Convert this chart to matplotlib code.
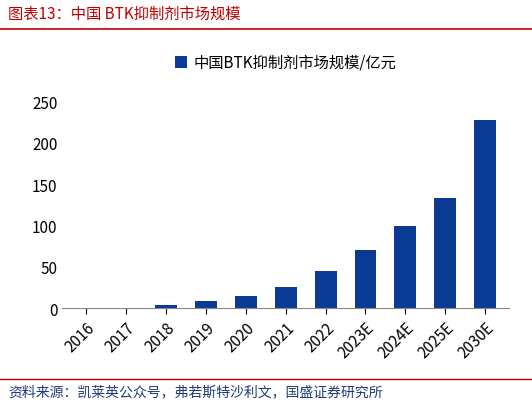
import matplotlib
matplotlib.use("Agg")
import matplotlib.pyplot as plt
from matplotlib.lines import Line2D

plt.rcParams['font.family'] = ['Noto Sans CJK SC', 'DejaVu Sans']

years = ['2016', '2017', '2018', '2019', '2020', '2021', '2022', '2023E', '2024E', '2025E', '2030E']
values = [0.3, 0.5, 4.5, 9, 15, 26, 45, 70, 100, 133, 227]
yticks = [0, 50, 100, 150, 200, 250]

fig = plt.figure(figsize=(5.32, 4.06), dpi=100)
ax = fig.add_axes([0.117, 0.238, 0.84, 0.51])
ax.bar(range(len(years)), values, width=0.55, color='#0b3a94', label='中国BTK抑制剂市场规模/亿元')
ax.set_ylim(0, 250)
ax.set_xlim(-0.6, len(years) - 0.4)
ax.set_yticks(yticks)
ax.set_xticks(range(len(years)))
ax.set_xticklabels(years, rotation=45, ha='right', rotation_mode='anchor')
ax.tick_params(axis='both', labelsize=11, length=0)
ax.tick_params(axis='x', length=4, direction='out')
for s in ['top', 'right', 'left']:
    ax.spines[s].set_visible(False)
ax.spines['bottom'].set_color('#888888')
ax.legend(loc='lower center', bbox_to_anchor=(0.5, 1.08), frameon=False, fontsize=11,
          handlelength=0.8, handleheight=0.8, handletextpad=0.4)

fig.text(0.015, 0.965, '图表13：中国 BTK抑制剂市场规模', color='#c00000', fontsize=11,
         style='italic', va='center')
fig.add_artist(Line2D([0.0, 1.0], [0.925, 0.925], color='#c00000', lw=1.2))
fig.add_artist(Line2D([0.0, 1.0], [0.065, 0.065], color='#c00000', lw=1.0))
fig.text(0.015, 0.035, '资料来源：凯莱英公众号，弗若斯特沙利文，国盛证券研究所', color='#1f3a7a',
         fontsize=10, style='italic', va='center')

fig.savefig('out.png', dpi=100)
